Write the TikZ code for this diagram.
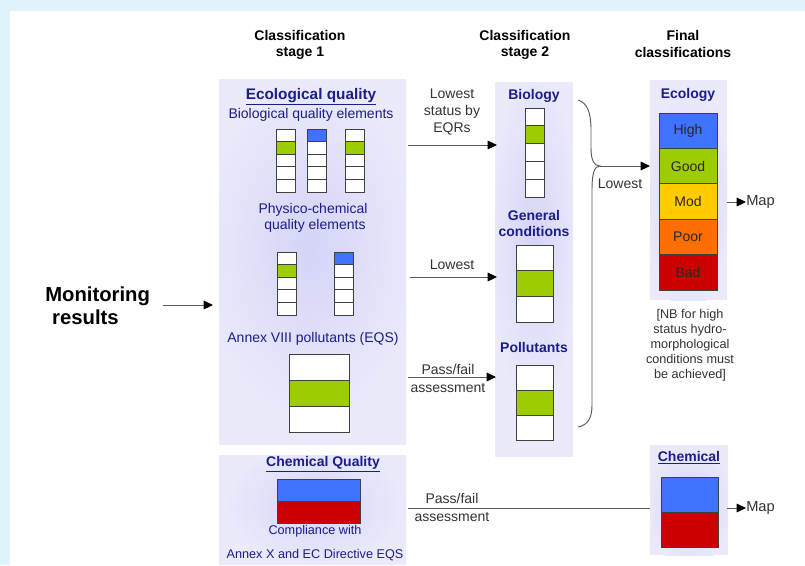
\documentclass[tikz,border=0pt]{standalone}
\usepackage{fontspec}
\setmainfont{Liberation Sans}
\usetikzlibrary{arrows.meta}
\definecolor{frame}{HTML}{E1F3FA}
\definecolor{panel}{HTML}{EAEAFB}
\definecolor{glow}{HTML}{D4D4F7}
\definecolor{navy}{HTML}{1C1C8A}
\definecolor{qblue}{HTML}{3F72FF}
\definecolor{qgreen}{HTML}{9DCC00}
\definecolor{qyellow}{HTML}{FFCC00}
\definecolor{qorange}{HTML}{FF6E00}
\definecolor{qred}{HTML}{CC0000}
\definecolor{lgray}{HTML}{5A5A5A}
\definecolor{tgray}{HTML}{333333}
\newcommand\qbar[5]{%
  \foreach \cc [count=\ii] in {#5}{%
    \filldraw[cellline, fill=\cc] (#1,{#3+(\ii-1)*#4}) rectangle (#2,{#3+\ii*#4});}}
\newcommand\glowpanel[6]{%
  \begin{scope}
  \clip (#1,#2) rectangle (#3,#4);
  \fill[panel] (#1,#2) rectangle (#3,#4);
  \shade[inner color=glow, outer color=panel] #5 ellipse #6;
  \end{scope}}
\begin{document}
\begin{tikzpicture}[x=0.75pt,y=-0.75pt,
  cellline/.style={draw=black!75, line width=0.7pt},
  conn/.style={draw=lgray, line width=0.75pt, -{Triangle[length=7pt,width=6.5pt,color=black]}},
  plainline/.style={draw=lgray, line width=0.75pt},
  head/.style={font=\fontsize{10.5}{12.6}\selectfont\bfseries, align=center, text=black},
  ptitle/.style={font=\fontsize{11.5}{13}\selectfont\bfseries, text=navy, align=center},
  stitle/.style={font=\fontsize{10.5}{12.6}\selectfont\bfseries, text=navy, align=center},
  ptext/.style={font=\fontsize{10.5}{11.5}\selectfont, text=navy, align=center},
  small/.style={font=\fontsize{9.5}{18}\selectfont, text=navy, align=center},
  lab/.style={font=\fontsize{10.5}{13}\selectfont, text=tgray, align=center},
  nb/.style={font=\fontsize{9.5}{11.3}\selectfont, text=tgray, align=center},
  grade/.style={font=\fontsize{10.5}{12}\selectfont, text=black!85},
]
% frame and background
\fill[frame] (0,0) rectangle (805,565);
\fill[white] (10,11) rectangle (805,565);
\useasboundingbox (0,0) rectangle (805,565);

% panels
\glowpanel{219}{79}{406}{445}{(310,250)}{(110 and 170)}
\glowpanel{219}{455}{406}{565}{(315,505)}{(90 and 60)}
\glowpanel{495}{82}{573}{457}{(534,240)}{(45 and 170)}
\glowpanel{650}{80}{727}{300}{(688,200)}{(45 and 110)}
\glowpanel{650}{445}{728}{555}{(689,505)}{(45 and 60)}

% headers
\node[head] (h1) at (300,45) {Classification\\stage 1};
\node[head] (h2) at (525,45) {Classification\\stage 2};
\node[head] (h3) at (683,44) {Final\\classifications};

% monitoring
\node[font=\fontsize{15.2}{17.3}\selectfont\bfseries, align=left, anchor=west, inner sep=0pt] (mon) at (45,306) {Monitoring\\\hspace*{5.2pt}results};
\coordinate (monA) at (163,305);
\coordinate (monB) at (213,305);
\draw[conn] (monA) -- (monB);

% stage 1
\node[ptitle] (eco) at (311,97) {\underline{Ecological quality}};
\node[ptext] (bio) at (311,115) {Biological quality elements};
\qbar{276}{295}{129}{12.6}{white,qgreen,white,white,white}
\qbar{307}{326}{129}{12.6}{qblue,white,white,white,white}
\qbar{345}{364}{129}{12.6}{white,qgreen,white,white,white}
\node[ptext] (phys) at (313,218) {Physico-chemical\\\ quality elements};
\qbar{277}{296}{252}{12.6}{white,qgreen,white,white,white}
\qbar{334}{353}{252}{12.6}{qblue,white,white,white,white}
\node[ptext] (annex) at (313,339) {Annex VIII pollutants (EQS)};
\qbar{289}{349}{354}{26}{white,qgreen,white}

% chemical quality
\node[ptitle, font=\fontsize{10.5}{12}\selectfont\bfseries] (chq) at (323,464) {\underline{Chemical Quality}};
\qbar{277}{360}{479}{22}{qblue,qred}
\node[small] (comp) at (315,543) {Compliance with\\Annex X and EC Directive EQS};

% stage 1 -> stage 2 connectors
\coordinate (c1a) at (408,145); \coordinate (c1b) at (497,145);
\coordinate (c2a) at (410,277); \coordinate (c2b) at (497,277);
\coordinate (c3a) at (408,377); \coordinate (c3b) at (496,377);
\coordinate (c4a) at (408,508); \coordinate (c4b) at (650,508);
\draw[conn] (c1a) -- (c1b);
\draw[conn] (c2a) -- (c2b);
\draw[conn] (c3a) -- (c3b);
\draw[plainline] (c4a) -- (c4b);
\node[lab] (l1) at (452,112) {Lowest\\status by\\EQRs};
\node[lab] (l2) at (452,265) {Lowest};
\node[lab] (l3) at (448,378.5) {Pass/fail\\assessment};
\node[lab] (l4) at (452,507.5) {Pass/fail\\assessment};

% stage 2
\node[stitle] (s2bio) at (534,96) {Biology};
\qbar{525}{544}{108}{17.8}{white,qgreen,white,white,white}
\node[stitle] (s2gen) at (534,223.5) {General\\conditions};
\qbar{516}{553}{245}{25.7}{white,qgreen,white}
\node[stitle] (s2pol) at (534,347) {Pollutants};
\qbar{516}{553}{365}{25.3}{white,qgreen,white}

% brace
\draw[lgray, line width=0.7pt] (578,100) .. controls (588,103) and (591,114) .. (591,130) -- (591,148)
  .. controls (591,160) and (594,166) .. (600,166)
  .. controls (594,166) and (592,174) .. (592,190) -- (592,405)
  .. controls (592,418) and (588,425) .. (578,427);
\coordinate (tip) at (600,166);
\coordinate (ecoIn) at (650,166);
\draw[conn] (tip) -- (ecoIn);
\node[lab] (l5) at (620,184) {Lowest};

% ecology final
\node[stitle] (ecol) at (688,95) {Ecology};
\qbar{659}{717}{113}{35.4}{qblue,qgreen,qyellow,qorange,qred}
\node[grade] (gH) at (688,130.7) {High};
\node[grade] (gG) at (688,166.1) {Good};
\node[grade] (gM) at (688,201.5) {Mod};
\node[grade] (gP) at (688,236.9) {Poor};
\node[grade] (gB) at (688,272.3) {Bad};
\coordinate (m1a) at (727,202); \coordinate (m1b) at (746,202);
\draw[conn] (m1a) -- (m1b);
\node[lab, anchor=west, inner sep=0pt, font=\fontsize{11}{13}\selectfont] (map1) at (746,202) {Map};
\node[nb] (nbt) at (690,345) {[NB for high\\status hydro-\\morphological\\conditions must\\be achieved]};

% chemical final
\node[ptitle, font=\fontsize{10.5}{12}\selectfont\bfseries] (chem) at (689,458) {\underline{Chemical}};
\qbar{661}{718}{477}{35}{qblue,qred}
\coordinate (m2a) at (727,508); \coordinate (m2b) at (746,508);
\draw[conn] (m2a) -- (m2b);
\node[lab, anchor=west, inner sep=0pt, font=\fontsize{11}{13}\selectfont] (map2) at (746,508) {Map};
\end{tikzpicture}
\end{document}
